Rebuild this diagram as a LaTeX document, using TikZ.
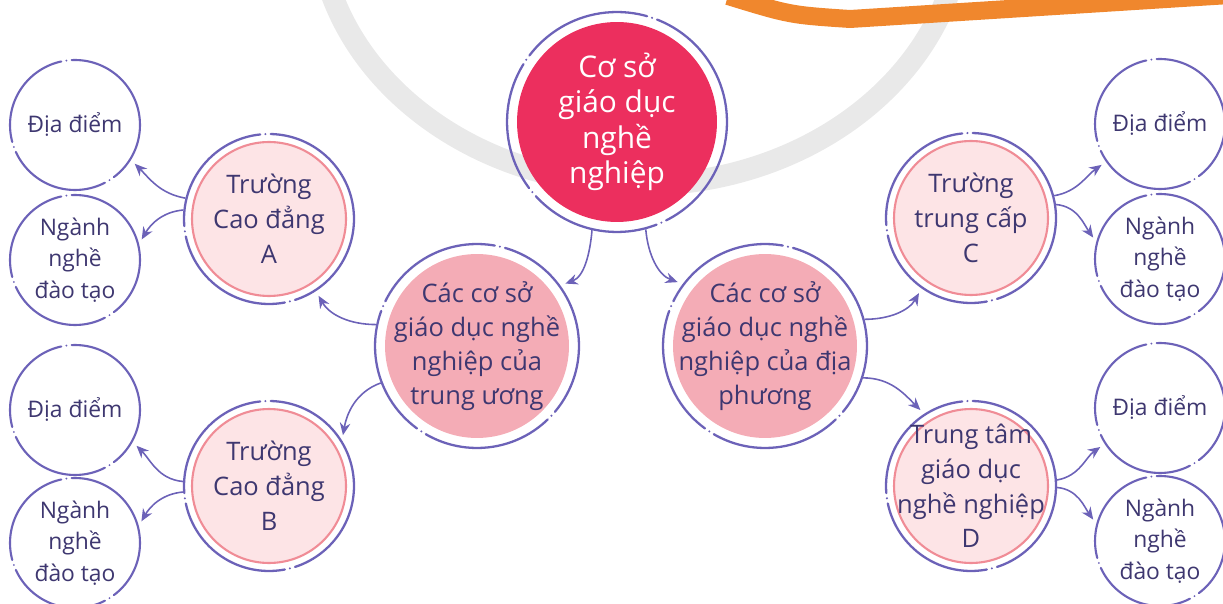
\documentclass[tikz,border=0pt]{standalone}
\usepackage{fontspec}
\setmainfont{Open Sans}
\usepackage{tikz}
\usetikzlibrary{arrows.meta}

\definecolor{ringc}{RGB}{108,98,184}
\definecolor{txtc}{RGB}{62,55,112}
\definecolor{mainfill}{RGB}{236,47,94}
\definecolor{midfill}{RGB}{244,172,182}
\definecolor{subfill}{RGB}{253,228,230}
\definecolor{subline}{RGB}{240,140,150}
\definecolor{wmgray}{RGB}{233,233,233}
\definecolor{bandc}{RGB}{240,135,45}

\tikzset{
  ring/.style={circle, draw=ringc, line width=1.3pt, line cap=round,
    dash pattern=on 75pt off 3pt on 0pt off 3pt, inner sep=-6mm,
    align=center, text=txtc},
  main/.style={ring, minimum size=4.4cm, text=white,
    font=\fontsize{17}{20.2}\selectfont,
    path picture={\fill[mainfill] (path picture bounding box.center) circle[radius=2cm];}},
  mid/.style={ring, minimum size=4.08cm, font=\fontsize{14.5}{19.3}\selectfont,
    path picture={\fill[midfill] (path picture bounding box.center) circle[radius=1.84cm];}},
  sub/.style={ring, minimum size=3.4cm, font=\fontsize{14.5}{19.8}\selectfont,
    path picture={\filldraw[solid, fill=subfill, draw=subline, line width=1.2pt]
      (path picture bounding box.center) circle[radius=1.54cm];}},
  leaf/.style={ring, minimum size=2.6cm, fill=white, line width=1.2pt,
    dash pattern=on 60pt off 3pt on 0pt off 3pt, font=\fontsize{13}{18}\selectfont},
  arr/.style={draw=ringc, line width=0.9pt, -{Stealth[length=7pt,width=6pt]}, shorten >=3pt},
}

\begin{document}
\begin{tikzpicture}[x=0.02cm, y=-0.02cm]
    \useasboundingbox (0,0) rectangle (1223,604);
    % background marks
    \draw [wmgray, line width=0.44cm] (640,-85) ellipse [x radius=6.45cm, y radius=5.4cm];
    \draw [bandc, line width=0.36cm, line join=round] (728,-4) .. controls (790,15) .. (850,19) -- (1230,-5);

    \node [main] (main) at (617,122) {Cơ sở\\giáo dục\\nghề\\nghiệp};
    \node [mid] (tw) at (477,346) {Các cơ sở\\giáo dục nghề\\nghiệp của\\trung ương};
    \node [mid] (dp) at (765,346) {Các cơ sở\\giáo dục nghề\\nghiệp của địa\\phương};
    \node [sub] (ca) at (269,219) {Trường\\Cao đẳng\\A};
    \node [sub] (cb) at (269,486) {Trường\\Cao đẳng\\B};
    \node [sub] (tc) at (971,218) {Trường\\trung cấp\\C};
    \node [sub] (tt) at (971,486) {Trung tâm\\giáo dục\\nghề nghiệp\\D};
    \node [leaf] (dda) at (75,125) {Địa điểm};
    \node [leaf] (nna) at (75,260) {Ngành\\nghề\\đào tạo};
    \node [leaf] (ddb) at (75,410) {Địa điểm};
    \node [leaf] (nnb) at (75,543) {Ngành\\nghề\\đào tạo};
    \node [leaf] (ddc) at (1160,124) {Địa điểm};
    \node [leaf] (nnc) at (1160,259) {Ngành\\nghề\\đào tạo};
    \node [leaf] (ddd) at (1160,408) {Địa điểm};
    \node [leaf] (nnd) at (1160,541) {Ngành\\nghề\\đào tạo};

    \draw [arr] (main.-103) to [out=-95, in=20] (tw.36);
    \draw [arr] (main.-75) to [out=-85, in=160] (dp.143);
    \draw [arr] (tw.168) to [out=180, in=-60] (ca.-57);
    \draw [arr] (tw.201) to [out=200, in=80] (cb.32);
    \draw [arr] (dp.15) to [out=0, in=-120] (tc.-125);
    \draw [arr] (dp.-18) to [out=0, in=135] (tt.123);
    \draw [arr] (ca.166) to [out=170, in=-45] (dda.-32);
    \draw [arr] (ca.174) to [out=185, in=60] (nna.14);
    \draw [arr] (cb.177) to [out=175, in=-45] (ddb.-29);
    \draw [arr] (cb.184) to [out=185, in=60] (nnb.15);
    \draw [arr] (tc.15) to [out=10, in=-145] (ddc.215);
    \draw [arr] (tc.9) to [out=-5, in=125] (nnc.165);
    \draw [arr] (tt.4) to [out=10, in=-145] (ddd.213);
    \draw [arr] (tt.-1) to [out=-5, in=125] (nnd.165);
\end{tikzpicture}
\end{document}
